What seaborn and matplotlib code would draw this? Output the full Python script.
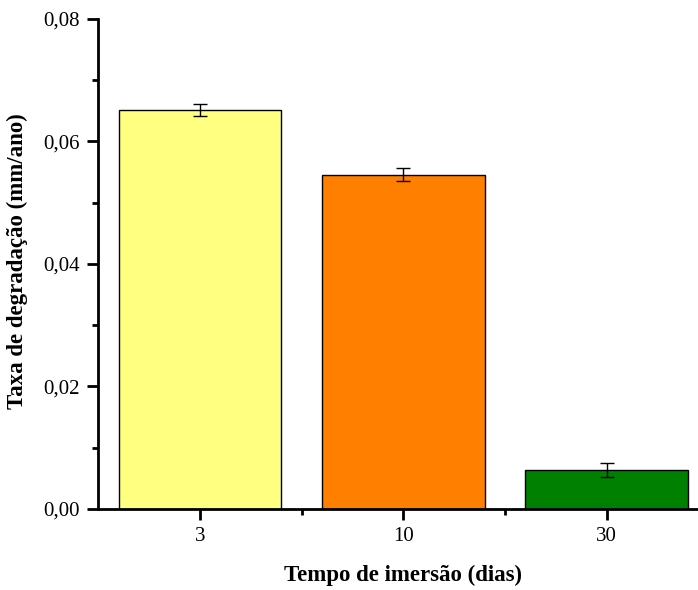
import matplotlib.pyplot as plt
import seaborn as sns
import pandas as pd
from matplotlib.ticker import MultipleLocator, FuncFormatter

plt.switch_backend('Agg')
sns.set_theme(style="white")
plt.rcParams['font.family'] = ['Liberation Serif', 'DejaVu Serif']

# data
dias = ['3', '10', '30']
taxa = [0.0651, 0.0546, 0.0064]
erro = [0.0010, 0.0010, 0.0011]
cores = ['#FFFF80', '#FF8000', '#008000']

df = pd.DataFrame({'dias': dias, 'taxa': taxa})

fig = plt.figure(figsize=(6.98, 5.90), dpi=100)
ax = fig.add_axes([0.1404, 0.1373, 0.8596, 0.8305])

sns.barplot(data=df, x='dias', y='taxa', hue='dias', palette=cores,
            order=dias, width=0.8, edgecolor='black', linewidth=1.0,
            saturation=1, errorbar=None, legend=False, ax=ax)
ax.errorbar(range(len(dias)), taxa, yerr=erro, fmt='none', ecolor='black',
            elinewidth=1.0, capsize=5, capthick=1.0)

ax.set_ylim(0, 0.08)
ax.set_xlim(-0.502, 2.45)
ax.yaxis.set_major_locator(MultipleLocator(0.02))
ax.yaxis.set_minor_locator(MultipleLocator(0.01))
ax.set_xticks([0.5, 1.5], minor=True)
ax.yaxis.set_major_formatter(FuncFormatter(lambda v, p: f'{v:.2f}'.replace('.', ',')))

for s in ['top', 'right']:
    ax.spines[s].set_visible(False)
for s in ['left', 'bottom']:
    ax.spines[s].set_linewidth(2)
    ax.spines[s].set_color('black')

ax.tick_params(which='major', direction='out', length=8, width=2,
               labelsize=15, color='black', labelcolor='black',
               left=True, bottom=True, pad=5)
ax.tick_params(which='minor', direction='out', length=4, width=2,
               color='black', left=True, bottom=True)

ax.set_xlabel('Tempo de imersão (dias)', fontsize=16.5, fontweight='bold',
              color='black')
ax.set_ylabel('Taxa de degradação (mm/ano)', fontsize=16.5, fontweight='bold',
              color='black')
ax.xaxis.set_label_coords(0.509, -0.114)
ax.yaxis.set_label_coords(-0.117, 0.506)

plt.savefig('out.png', dpi=100)
plt.close()
